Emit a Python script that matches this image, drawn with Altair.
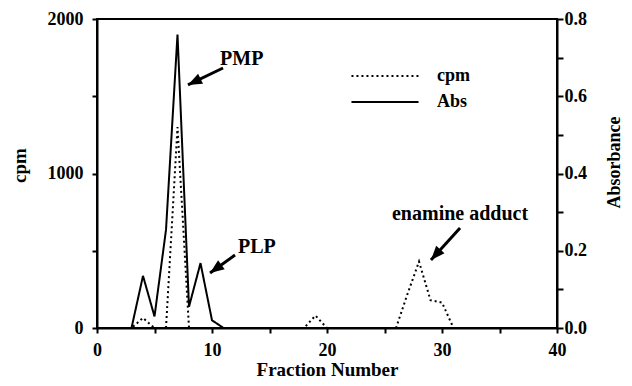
import altair as alt
import pandas as pd

# ---- data ----
fractions = list(range(1, 41))
cpm_values = [0, 0, 0, 65, 0, 0, 1300, 0, 0, 0,
              0, 0, 0, 0, 0, 0, 0, 0, 80, 0,
              0, 0, 0, 0, 0, 0, 220, 430, 180, 165,
              0, 0, 0, 0, 0, 0, 0, 0, 0, 0]
abs_values = [0, 0, 0, 0.135, 0.03, 0.254, 0.76, 0.055, 0.168, 0.02,
              0, 0, 0, 0, 0, 0, 0, 0, 0, 0,
              0, 0, 0, 0, 0, 0, 0, 0, 0, 0,
              0, 0, 0, 0, 0, 0, 0, 0, 0, 0]

# annotations (fraction, cpm units)
label_texts = ["PMP", "PLP", "enamine adduct"]
label_x = [10.7, 12.26, 25.65]
label_y = [1700, 485, 700]

arrow_ids = ["PMP", "PMP", "PLP", "PLP", "enamine", "enamine"]
arrow_x = [10.96, 7.91, 12.0, 9.83, 31.57, 29.04]
arrow_y = [1683, 1573, 472, 356, 647, 440]
head_x = [7.91, 9.83, 29.04]
head_y = [1573, 356, 440]
head_angle = [244, 234, 222]

series_names = ["cpm", "Abs"]

FONT = "Liberation Serif"

cpm_df = pd.DataFrame({"fraction": fractions, "cpm": cpm_values, "series": "cpm"})
abs_df = pd.DataFrame({"fraction": fractions, "absorbance": abs_values, "series": "Abs"})
text_df = pd.DataFrame({"fraction": label_x, "cpm": label_y, "text": label_texts})
arrow_df = pd.DataFrame({"fraction": arrow_x, "cpm": arrow_y, "id": arrow_ids,
                         "order": [0, 1] * 3})
head_df = pd.DataFrame({"fraction": head_x, "cpm": head_y, "angle": head_angle})

x_axis = alt.Axis(
    title="Fraction Number",
    values=[0, 5, 10, 15, 20, 25, 30, 35, 40],
    labelExpr="datum.value % 10 == 0 ? datum.label : ''",
    grid=False, tickSize=5, tickWidth=2, domainWidth=2, domainColor="black",
    tickColor="black", labelColor="black", labelFont=FONT, labelFontWeight="bold",
    labelFontSize=18, labelPadding=8, labelFlush=False,
    titleFont=FONT, titleFontWeight="bold", titleFontSize=19, titleColor="black",
    titleY=47, titleBaseline="alphabetic",
)
x_enc = alt.X("fraction:Q", scale=alt.Scale(domain=[0, 40], nice=False), axis=x_axis)

cpm_axis = alt.Axis(
    title="cpm", orient="left",
    values=[0, 500, 1000, 1500, 2000], format="d",
    labelExpr="datum.value % 1000 == 0 ? datum.label : ''",
    grid=False, tickSize=5, tickWidth=2, domainWidth=2, domainColor="black",
    tickColor="black", labelColor="black", labelFont=FONT, labelFontWeight="bold",
    labelFontSize=18, labelPadding=9, labelFlush=False,
    titleFont=FONT, titleFontWeight="bold", titleFontSize=19, titleColor="black",
    titleAngle=270, titleX=-78, titleY=146, titleAlign="center", titleBaseline="middle",
)
cpm_scale = alt.Scale(domain=[0, 2000], nice=False)

abs_axis = alt.Axis(
    title="Absorbance", orient="right",
    values=[0, 0.1, 0.2, 0.3, 0.4, 0.5, 0.6, 0.7, 0.8], format=".1f",
    labelExpr="round(datum.value * 10) % 2 == 0 ? datum.label : ''",
    grid=False, tickSize=6, tickWidth=2, domainWidth=2, domainColor="black",
    tickColor="black", labelColor="black", labelFont=FONT, labelFontWeight="bold",
    labelFontSize=18, labelPadding=1, labelFlush=False,
    titleFont=FONT, titleFontWeight="bold", titleFontSize=18, titleColor="black",
    titleAngle=270, titleX=57, titleY=143, titleAlign="center", titleBaseline="middle",
)

dash_scale = alt.Scale(domain=series_names, range=[[2, 3], [1, 0]])
legend = alt.Legend(
    title=None, orient="none", legendX=279, legendY=48, padding=0,
    symbolType="M-6,0H6", symbolSize=125, symbolStrokeWidth=2,
    symbolStrokeColor="black", symbolFillColor="transparent",
    labelOffset=43, rowPadding=8,
    labelFont=FONT, labelFontWeight="bold", labelFontSize=18, labelColor="black",
)

cpm_line = alt.Chart(cpm_df).mark_line(color="black", strokeWidth=2, strokeCap="butt").encode(
    x=x_enc,
    y=alt.Y("cpm:Q", scale=cpm_scale, axis=cpm_axis),
    strokeDash=alt.StrokeDash("series:N", scale=dash_scale, legend=legend),
)

arrows = alt.Chart(arrow_df).mark_line(color="black", strokeWidth=3).encode(
    x=x_enc,
    y=alt.Y("cpm:Q", scale=cpm_scale, axis=cpm_axis),
    detail="id:N",
    order="order:Q",
)

heads = alt.Chart(head_df).mark_point(
    shape="M0,0L-0.4,1L0.4,1Z", filled=True, size=784, color="black", opacity=1
).encode(
    x=x_enc,
    y=alt.Y("cpm:Q", scale=cpm_scale, axis=cpm_axis),
    angle=alt.Angle("angle:Q", scale=None),
)

texts = alt.Chart(text_df).mark_text(
    align="left", baseline="alphabetic", font=FONT, fontWeight="bold",
    fontSize=20, color="black"
).encode(
    x=x_enc,
    y=alt.Y("cpm:Q", scale=cpm_scale, axis=cpm_axis),
    text="text:N",
)

left_group = alt.layer(cpm_line, arrows, heads, texts)

abs_line = alt.Chart(abs_df).mark_line(color="black", strokeWidth=2).encode(
    x=x_enc,
    y=alt.Y("absorbance:Q", scale=alt.Scale(domain=[0, 0.8], nice=False), axis=abs_axis),
    strokeDash=alt.StrokeDash("series:N", scale=dash_scale, legend=legend),
)

chart = alt.layer(left_group, abs_line).resolve_scale(y="independent").properties(
    width=460, height=309,
    autosize=alt.AutoSizeParams(type="none"),
    padding={"left": 89, "top": 11, "right": 67, "bottom": 50},
    background="white",
).configure_view(stroke="black", strokeWidth=2)

chart.save("out.html", embed_options={"renderer": "svg", "actions": False})
